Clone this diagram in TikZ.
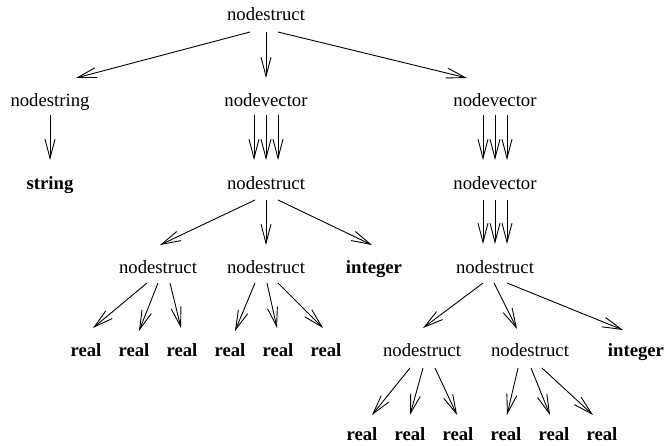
\documentclass[tikz,border=0pt]{standalone}
\usepackage{fontspec}
\setmainfont{Liberation Serif}
\usetikzlibrary{arrows.meta}
\begin{document}
\begin{tikzpicture}[x=1pt,y=-1pt,
  lbl/.style={anchor=base,inner sep=0pt,font=\fontsize{18.7}{22}\selectfont},
  kw/.style={lbl,font=\fontsize{18.7}{22}\selectfont\bfseries},
  arr/.style={line width=0.9pt,-{Straight Barb[length=19pt,width=10pt,line width=0.9pt]}}]
\useasboundingbox[fill=white] (0,0) rectangle (667,446);
% nodes
\node[lbl] (t) at (266,21) {nodestruct};
\node[lbl] (a1) at (50,107) {nodestring};
\node[lbl] (a2) at (266,107) {nodevector};
\node[lbl] (a3) at (495,107) {nodevector};
\node[kw] (b1) at (50,190) {string};
\node[lbl] (b2) at (266,190) {nodestruct};
\node[lbl] (b3) at (495,190) {nodevector};
\node[lbl] (c1) at (158,274) {nodestruct};
\node[lbl] (c2) at (266,274) {nodestruct};
\node[kw] (c3) at (374,274) {integer};
\node[lbl] (c4) at (495,274) {nodestruct};
\node[kw] (d1) at (86,357) {real};
\node[kw] (d2) at (134,357) {real};
\node[kw] (d3) at (182,357) {real};
\node[kw] (d4) at (230,357) {real};
\node[kw] (d5) at (278,357) {real};
\node[kw] (d6) at (326,357) {real};
\node[lbl] (d7) at (422,357) {nodestruct};
\node[lbl] (d8) at (530,357) {nodestruct};
\node[kw] (d9) at (636,357) {integer};
\node[kw] (e1) at (362,440) {real};
\node[kw] (e2) at (410,440) {real};
\node[kw] (e3) at (458,440) {real};
\node[kw] (e4) at (506,440) {real};
\node[kw] (e5) at (554,440) {real};
\node[kw] (e6) at (602,440) {real};
% row 1 -> 2
\draw[arr] ([shift={(-16,11)}]t.base) -- ([shift={(26,-29)}]a1.base);
\draw[arr] ([shift={(0,11)}]t.base) -- ([shift={(0,-29)}]a2.base);
\draw[arr] ([shift={(12,11)}]t.base) -- ([shift={(-28,-29)}]a3.base);
% row 2 -> 3
\draw[arr] ([shift={(0,8)}]a1.base) -- ([shift={(0,-30)}]b1.base);
\foreach \dx in {-12,0,12}{
  \draw[arr] ([shift={(\dx,8)}]a2.base) -- ([shift={(\dx,-30)}]b2.base);
  \draw[arr] ([shift={(\dx,8)}]a3.base) -- ([shift={(\dx,-30)}]b3.base);
  \draw[arr] ([shift={(\dx,10)}]b3.base) -- ([shift={(\dx,-30)}]c4.base);
}
% row 3 -> 4
\draw[arr] ([shift={(-11,10)}]b2.base) -- ([shift={(2,-29)}]c1.base);
\draw[arr] ([shift={(0,10)}]b2.base) -- ([shift={(0,-29)}]c2.base);
\draw[arr] ([shift={(12,10)}]b2.base) -- ([shift={(-2,-29)}]c3.base);
% row 4 -> 5
\draw[arr] ([shift={(-11,9)}]c1.base) -- ([shift={(7,-29)}]d1.base);
\draw[arr] ([shift={(0,9)}]c1.base) -- ([shift={(5,-26)}]d2.base);
\draw[arr] ([shift={(12,9)}]c1.base) -- ([shift={(-1,-29)}]d3.base);
\draw[arr] ([shift={(-11,9)}]c2.base) -- ([shift={(5,-26)}]d4.base);
\draw[arr] ([shift={(1,9)}]c2.base) -- ([shift={(-1,-29)}]d5.base);
\draw[arr] ([shift={(12,9)}]c2.base) -- ([shift={(-3,-29)}]d6.base);
\draw[arr] ([shift={(-12,9)}]c4.base) -- ([shift={(1,-29)}]d7.base);
\draw[arr] ([shift={(-1,9)}]c4.base) -- ([shift={(-13,-28)}]d8.base);
\draw[arr] ([shift={(12,9)}]c4.base) -- ([shift={(-13,-27)}]d9.base);
% row 5 -> 6
\draw[arr] ([shift={(-12,11)}]d7.base) -- ([shift={(10,-25)}]e1.base);
\draw[arr] ([shift={(1,11)}]d7.base) -- ([shift={(0,-25)}]e2.base);
\draw[arr] ([shift={(13,11)}]d7.base) -- ([shift={(-1,-25)}]e3.base);
\draw[arr] ([shift={(-12,11)}]d8.base) -- ([shift={(1,-25)}]e4.base);
\draw[arr] ([shift={(1,11)}]d8.base) -- ([shift={(-4,-25)}]e5.base);
\draw[arr] ([shift={(12,11)}]d8.base) -- ([shift={(-9,-25)}]e6.base);
\end{tikzpicture}
\end{document}
